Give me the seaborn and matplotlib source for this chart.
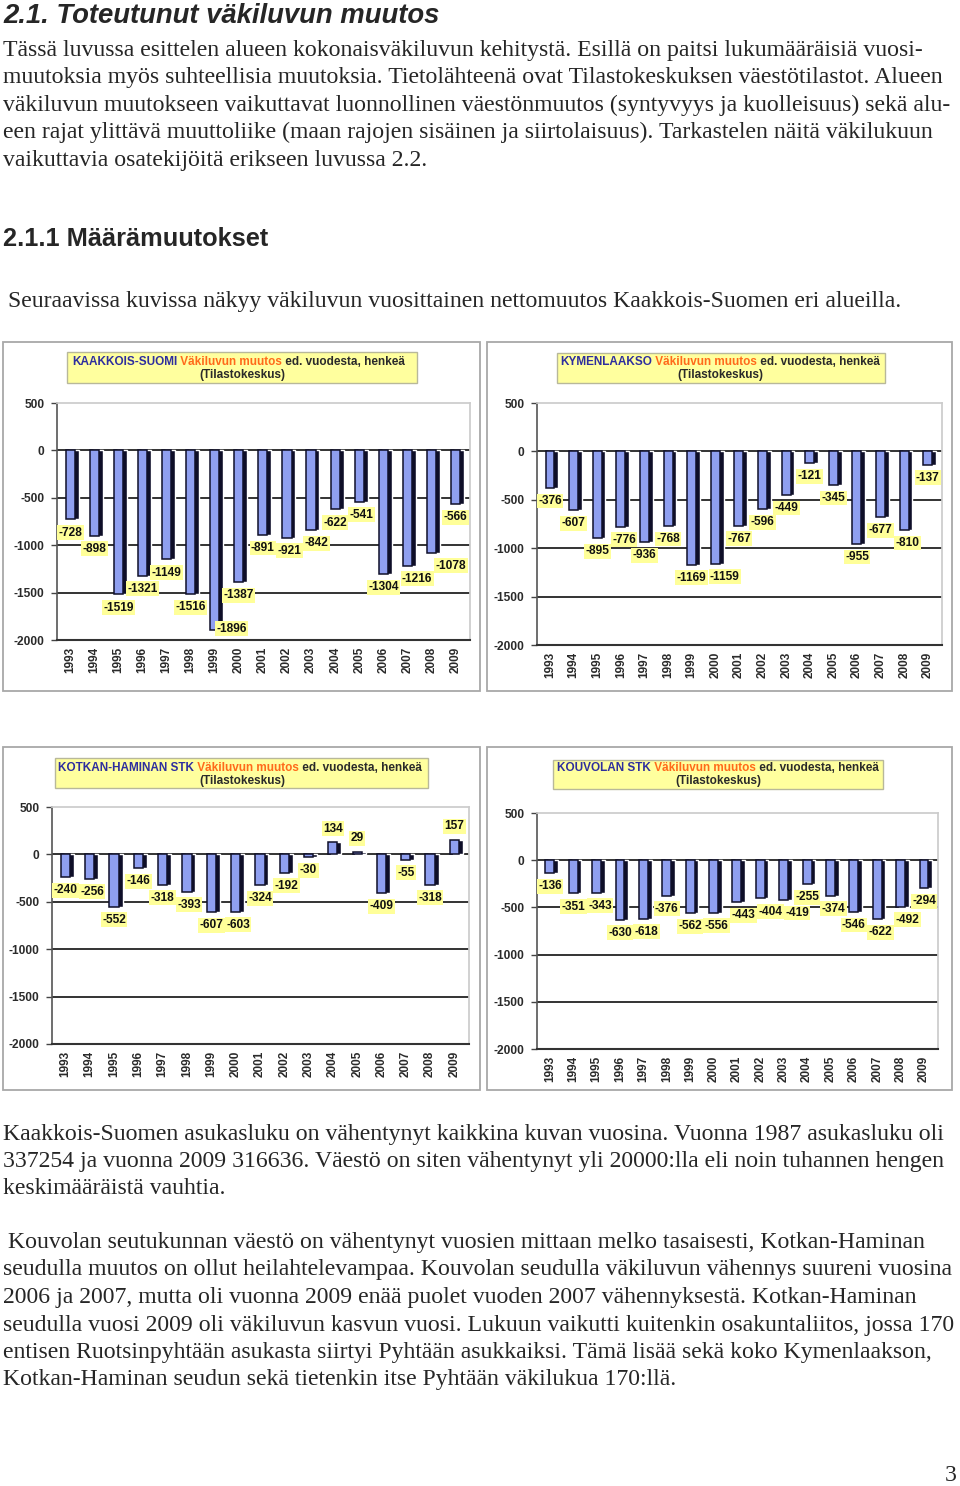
'''
Page 3: population change in Kaakkois-Suomen alueet, 1993-2009.
Four seaborn bar charts embedded in the report text.
'''

import numpy as np
import pandas as pd
import seaborn as sns
import matplotlib.pyplot as plt
from matplotlib.patches import Rectangle

##########################################
# DATA

years = ['1993', '1994', '1995', '1996', '1997', '1998', '1999', '2000', '2001',
         '2002', '2003', '2004', '2005', '2006', '2007', '2008', '2009']

kaakkois_suomi = [-728, -898, -1519, -1321, -1149, -1516, -1896, -1387, -891,
                  -921, -842, -622, -541, -1304, -1216, -1078, -566]
kymenlaakso = [-376, -607, -895, -776, -936, -768, -1169, -1159, -767,
               -596, -449, -121, -345, -955, -677, -810, -137]
kotka_hamina = [-240, -256, -552, -146, -318, -393, -607, -603, -324,
                -192, -30, 134, 29, -409, -55, -318, 157]
kouvola = [-136, -351, -343, -630, -618, -376, -562, -556, -443,
           -404, -419, -255, -374, -546, -622, -492, -294]

region_names = ['KAAKKOIS-SUOMI', 'KYMENLAAKSO', 'KOTKAN-HAMINAN STK', 'KOUVOLAN STK']
series = [kaakkois_suomi, kymenlaakso, kotka_hamina, kouvola]
y_ticks = [500, 0, -500, -1000, -1500, -2000]

heading = '2.1. Toteutunut väkiluvun muutos'
intro_lines = [
    'Tässä luvussa esittelen alueen kokonaisväkiluvun kehitystä. Esillä on paitsi lukumääräisiä vuosi-',
    'muutoksia myös suhteellisia muutoksia. Tietolähteenä ovat Tilastokeskuksen väestötilastot. Alueen',
    'väkiluvun muutokseen vaikuttavat luonnollinen väestönmuutos (syntyvyys ja kuolleisuus) sekä alu-',
    'een rajat ylittävä muuttoliike (maan rajojen sisäinen ja siirtolaisuus). Tarkastelen näitä väkilukuun',
    'vaikuttavia osatekijöitä erikseen luvussa 2.2.',
]
subheading = '2.1.1 Määrämuutokset'
lead = 'Seuraavissa kuvissa näkyy väkiluvun vuosittainen nettomuutos Kaakkois-Suomen eri alueilla.'
para1 = [
    'Kaakkois-Suomen asukasluku on vähentynyt kaikkina kuvan vuosina. Vuonna 1987 asukasluku oli',
    '337254 ja vuonna 2009 316636. Väestö on siten vähentynyt yli 20000:lla eli noin tuhannen hengen',
    'keskimääräistä vauhtia.',
]
para2 = [
    'Kouvolan seutukunnan väestö on vähentynyt vuosien mittaan melko tasaisesti, Kotkan-Haminan',
    'seudulla muutos on ollut heilahtelevampaa. Kouvolan seudulla väkiluvun vähennys suureni vuosina',
    '2006 ja 2007, mutta oli vuonna 2009 enää puolet vuoden 2007 vähennyksestä. Kotkan-Haminan',
    'seudulla vuosi 2009 oli väkiluvun kasvun vuosi. Lukuun vaikutti kuitenkin osakuntaliitos, jossa 170',
    'entisen Ruotsinpyhtään asukasta siirtyi Pyhtään asukkaiksi. Tämä lisää sekä koko Kymenlaakson,',
    'Kotkan-Haminan seudun sekä tietenkin itse Pyhtään väkilukua 170:llä.',
]

##########################################
# LAYOUT (page pixels)

W, H = 960, 1486
# panel border, axes box, title box, title line1 left x + baseline, line2 centre x + baseline
layout = [
    dict(border=(3, 342, 480, 691), axes=(57, 403, 470, 640), tbox=(67, 352, 417, 383), t1=(72, 365), t2=(242, 378)),
    dict(border=(487, 342, 952, 691), axes=(537, 403, 942, 645), tbox=(557, 353, 885, 383), t1=(560, 365), t2=(720, 378)),
    dict(border=(3, 747, 480, 1090), axes=(52, 807, 469, 1044), tbox=(55, 758, 428, 788), t1=(58, 771), t2=(242, 784)),
    dict(border=(487, 747, 952, 1090), axes=(537, 813, 938, 1049), tbox=(553, 760, 883, 789), t1=(557, 771), t2=(718, 784)),
]

def fx(x):
    return x / W

def fy(y):
    return 1 - y / H

def px_rect(x0, y0, x1, y1):
    return (fx(x0), fy(y1), (x1 - x0) / W, (y1 - y0) / H)

##########################################
# STYLE

sns.set_theme(style='white')
serif = ['Liberation Serif', 'DejaVu Serif']
sans = ['Liberation Sans', 'DejaVu Sans']
plt.rcParams['font.family'] = sans

bar_face = '#8f9ff0'
bar_side = '#0e0e28'
label_bg = '#ffff99'
title_blue = '#2e2e9e'
title_orange = '#ff6a1a'
dark = '#2a2a2a'
body_size = 17.1
title_size = 8.45

fig = plt.figure(figsize=(9.6, 14.86), dpi=100, facecolor='white')

##########################################
# PAGE TEXT

fig.text(fx(3), fy(22.7), heading, family=sans, weight='bold', style='italic', size=19.8, va='baseline')
for i, line in enumerate(intro_lines):
    fig.text(fx(3), fy(56 + 27.4 * i), line, family=serif, size=body_size, va='baseline')
fig.text(fx(3), fy(246), subheading, family=sans, weight='bold', size=18.3, va='baseline')
fig.text(fx(8), fy(306.5), lead, family=serif, size=body_size, va='baseline')
for i, line in enumerate(para1):
    fig.text(fx(3), fy(1140 + 26.8 * i), line, family=serif, size=body_size, va='baseline')
for i, line in enumerate(para2):
    fig.text(fx(8) if i == 0 else fx(3), fy(1248 + 27.5 * i), line, family=serif, size=body_size, va='baseline')
fig.text(fx(957), fy(1481), '3', family=serif, size=body_size, ha='right', va='baseline')

##########################################
# CHARTS

all_labels = []
for name, values, lay in zip(region_names, series, layout):
    # panel frame and yellow title box
    b = px_rect(*lay['border'])
    fig.add_artist(Rectangle(b[:2], *b[2:], transform=fig.transFigure,
                             fc='white', ec='#a8a8a8', lw=1.3, zorder=-2))
    t = px_rect(*lay['tbox'])
    fig.add_artist(Rectangle(t[:2], *t[2:], transform=fig.transFigure,
                             fc='#ffff9e', ec='#b8b89a', lw=1.0, zorder=-1))

    ax = fig.add_axes(px_rect(*lay['axes']))
    df = pd.DataFrame({'pos': np.arange(len(years)), 'value': values})

    # dark side of the 3D column, then the front face
    sns.barplot(x=df['pos'] + 0.14, y=df['value'], native_scale=True, width=0.42, color=bar_side,
                saturation=1, errorbar=None, ax=ax, zorder=2)
    sns.barplot(x=df['pos'], y=df['value'], native_scale=True, width=0.38, color=bar_face,
                saturation=1, edgecolor='#10102a', linewidth=1.1, errorbar=None, ax=ax, zorder=3)

    # data labels on yellow
    labels = []
    for p, v in zip(df['pos'], df['value']):
        ann = ax.annotate(str(v), xy=(p, v), xytext=(0, -9.5 if v < 0 else 9.5), textcoords='offset points',
                          ha='center', va='center', size=8.6, weight='bold', color='#111111', zorder=5,
                          bbox=dict(boxstyle='square,pad=0.12', fc=label_bg, ec='none'))
        labels.append(ann)
    all_labels.append((ax, labels))

    ax.set_ylim(-2000, 500)
    ax.set_xlim(-0.55, 16.6)
    ax.set_yticks(y_ticks)
    ax.set_yticklabels([str(t) for t in y_ticks])
    ax.set_xticks(df['pos'])
    ax.set_xticklabels(years, rotation=90)
    ax.set(xlabel='', ylabel='')
    ax.tick_params(axis='y', labelsize=8.6, length=4, width=1, color='#444444', pad=5, left=True)
    ax.tick_params(axis='x', labelsize=8.5, length=0, pad=5)
    for lbl in ax.get_xticklabels() + ax.get_yticklabels():
        lbl.set_fontweight('bold')
        lbl.set_color(dark)

    ax.set_axisbelow(True)
    ax.yaxis.grid(True, color='#333333', lw=1.4)
    ax.get_ygridlines()[0].set_visible(False)
    ax.spines['left'].set_color('#555555')
    ax.spines['left'].set_linewidth(1.2)
    ax.spines['bottom'].set_color('#333333')
    ax.spines['bottom'].set_linewidth(1.5)
    ax.spines['top'].set_color('#cccccc')
    ax.spines['right'].set_color('#cccccc')

    # title: region name (blue) + "Väkiluvun muutos" (orange) + rest (dark)
    t1 = ax.annotate(name, xy=(fx(lay['t1'][0]), fy(lay['t1'][1])), xycoords='figure fraction',
                     ha='left', va='baseline', size=title_size, weight='bold', color=title_blue,
                     annotation_clip=False, zorder=6)
    t2 = ax.annotate(' Väkiluvun muutos', xy=(1, 0), xycoords=t1, ha='left', va='bottom',
                     size=title_size, weight='bold', color=title_orange, annotation_clip=False, zorder=6)
    ax.annotate(' ed. vuodesta, henkeä', xy=(1, 0), xycoords=t2, ha='left', va='bottom',
                size=title_size, weight='bold', color=dark, annotation_clip=False, zorder=6)
    ax.annotate('(Tilastokeskus)', xy=(fx(lay['t2'][0]), fy(lay['t2'][1])), xycoords='figure fraction',
                ha='center', va='baseline', size=title_size, weight='bold', color=dark,
                annotation_clip=False, zorder=6)

# move data labels like Excel does: beside the bar when they would fall off the plot,
# and to the right when they collide with the previous one
fig.canvas.draw()
renderer = fig.canvas.get_renderer()
for ax, labels in all_labels:
    ax_bb = ax.get_window_extent(renderer)
    prev_bb = None
    for ann in labels:
        bb = ann.get_window_extent(renderer)
        if bb.y0 < ax_bb.y0:
            ann.xyann = (12, 1)
            bb = ann.get_window_extent(renderer)
        bb = bb.expanded(1.08, 1.1)
        if prev_bb is not None and bb.overlaps(prev_bb):
            shift = (prev_bb.x1 - bb.x0 + 1) * 72 / fig.dpi
            ann.xyann = (ann.xyann[0] + shift, ann.xyann[1])
            bb = ann.get_window_extent(renderer).expanded(1.08, 1.1)
        prev_bb = bb

plt.savefig('out.png', dpi=100, facecolor='white')
